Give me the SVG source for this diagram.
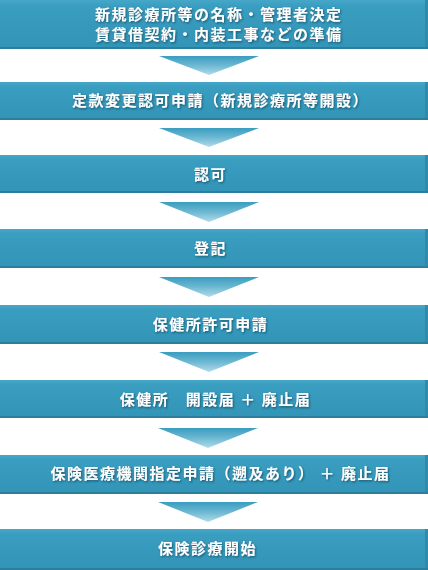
<svg xmlns="http://www.w3.org/2000/svg" width="428" height="570" viewBox="0 0 428 570">
<defs>
<linearGradient id="boxg" x1="0" y1="0" x2="0" y2="1">
<stop offset="0" stop-color="#46a7c8"/>
<stop offset="0.12" stop-color="#3a9ec1"/>
<stop offset="1" stop-color="#3294b7"/>
</linearGradient>
<linearGradient id="arrg" x1="0" y1="0" x2="0" y2="1">
<stop offset="0" stop-color="#3a9dc0"/>
<stop offset="0.5" stop-color="#6db8d2"/>
<stop offset="1" stop-color="#b2dbe9"/>
</linearGradient>
<filter id="sh" x="-10%" y="-50%" width="120%" height="200%">
<feDropShadow dx="1" dy="1.2" stdDeviation="0.9" flood-color="#123f52" flood-opacity="0.75"/>
</filter>
</defs>
<style>
.box{fill:url(#boxg);}
.bot{fill:#2b7f9d;}
.side{fill:#2f8aab;}
.arr{fill:url(#arrg);}
.t{font-family:"Noto Sans CJK JP","Noto Sans CJK SC",sans-serif;font-size:15px;font-weight:bold;fill:#ffffff;letter-spacing:1.5px;text-anchor:middle;filter:url(#sh);}
</style>
<rect width="428" height="570" fill="#ffffff"/>
<g id="connectors">
<polygon class="arr" points="159,56 259,56 209,75"/>
<polygon class="arr" points="159,128 259,128 209,147"/>
<polygon class="arr" points="159,202 259,202 209,222"/>
<polygon class="arr" points="159,277 259,277 209,297"/>
<polygon class="arr" points="159,352 259,352 209,372"/>
<polygon class="arr" points="158,428 258,428 208,448"/>
<polygon class="arr" points="158,502 258,502 208,522"/>
</g>
<g id="node1">
<rect class="box" x="0" y="0" width="428" height="49"/>
<rect class="side" x="425" y="0" width="3" height="49"/>
<rect class="bot" x="0" y="47" width="428" height="2"/>
<text class="t" x="218.8" y="20.4">新規診療所等の名称・管理者決定</text>
<text class="t" x="218.8" y="39.9">賃貸借契約・内装工事などの準備</text>
</g>
<g id="node2">
<rect class="box" x="0" y="82" width="428" height="38"/>
<rect class="side" x="425" y="82" width="3" height="38"/>
<rect class="bot" x="0" y="118" width="428" height="2"/>
<text class="t" x="220.5" y="106.4">定款変更認可申請（新規診療所等開設）</text>
</g>
<g id="node3">
<rect class="box" x="0" y="155" width="428" height="38"/>
<rect class="side" x="425" y="155" width="3" height="38"/>
<rect class="bot" x="0" y="191" width="428" height="2"/>
<text class="t" x="210.5" y="180.4">認可</text>
</g>
<g id="node4">
<rect class="box" x="0" y="229" width="428" height="39"/>
<rect class="side" x="425" y="229" width="3" height="39"/>
<rect class="bot" x="0" y="266" width="428" height="2"/>
<text class="t" x="210.5" y="254.4">登記</text>
</g>
<g id="node5">
<rect class="box" x="0" y="305" width="428" height="39"/>
<rect class="side" x="425" y="305" width="3" height="39"/>
<rect class="bot" x="0" y="342" width="428" height="2"/>
<text class="t" x="210.5" y="330.4">保健所許可申請</text>
</g>
<g id="node6">
<rect class="box" x="0" y="380" width="428" height="38"/>
<rect class="side" x="425" y="380" width="3" height="38"/>
<rect class="bot" x="0" y="416" width="428" height="2"/>
<text class="t" x="215.5" y="404.9">保健所　開設届 ＋ 廃止届</text>
</g>
<g id="node7">
<rect class="box" x="0" y="455" width="428" height="39"/>
<rect class="side" x="425" y="455" width="3" height="39"/>
<rect class="bot" x="0" y="492" width="428" height="2"/>
<text class="t" x="220.5" y="479.4">保険医療機関指定申請（遡及あり） ＋ 廃止届</text>
</g>
<g id="node8">
<rect class="box" x="0" y="529" width="428" height="41"/>
<rect class="side" x="425" y="529" width="3" height="41"/>
<rect class="bot" x="0" y="568" width="428" height="2"/>
<text class="t" x="207.5" y="554.4">保険診療開始</text>
</g>
</svg>
